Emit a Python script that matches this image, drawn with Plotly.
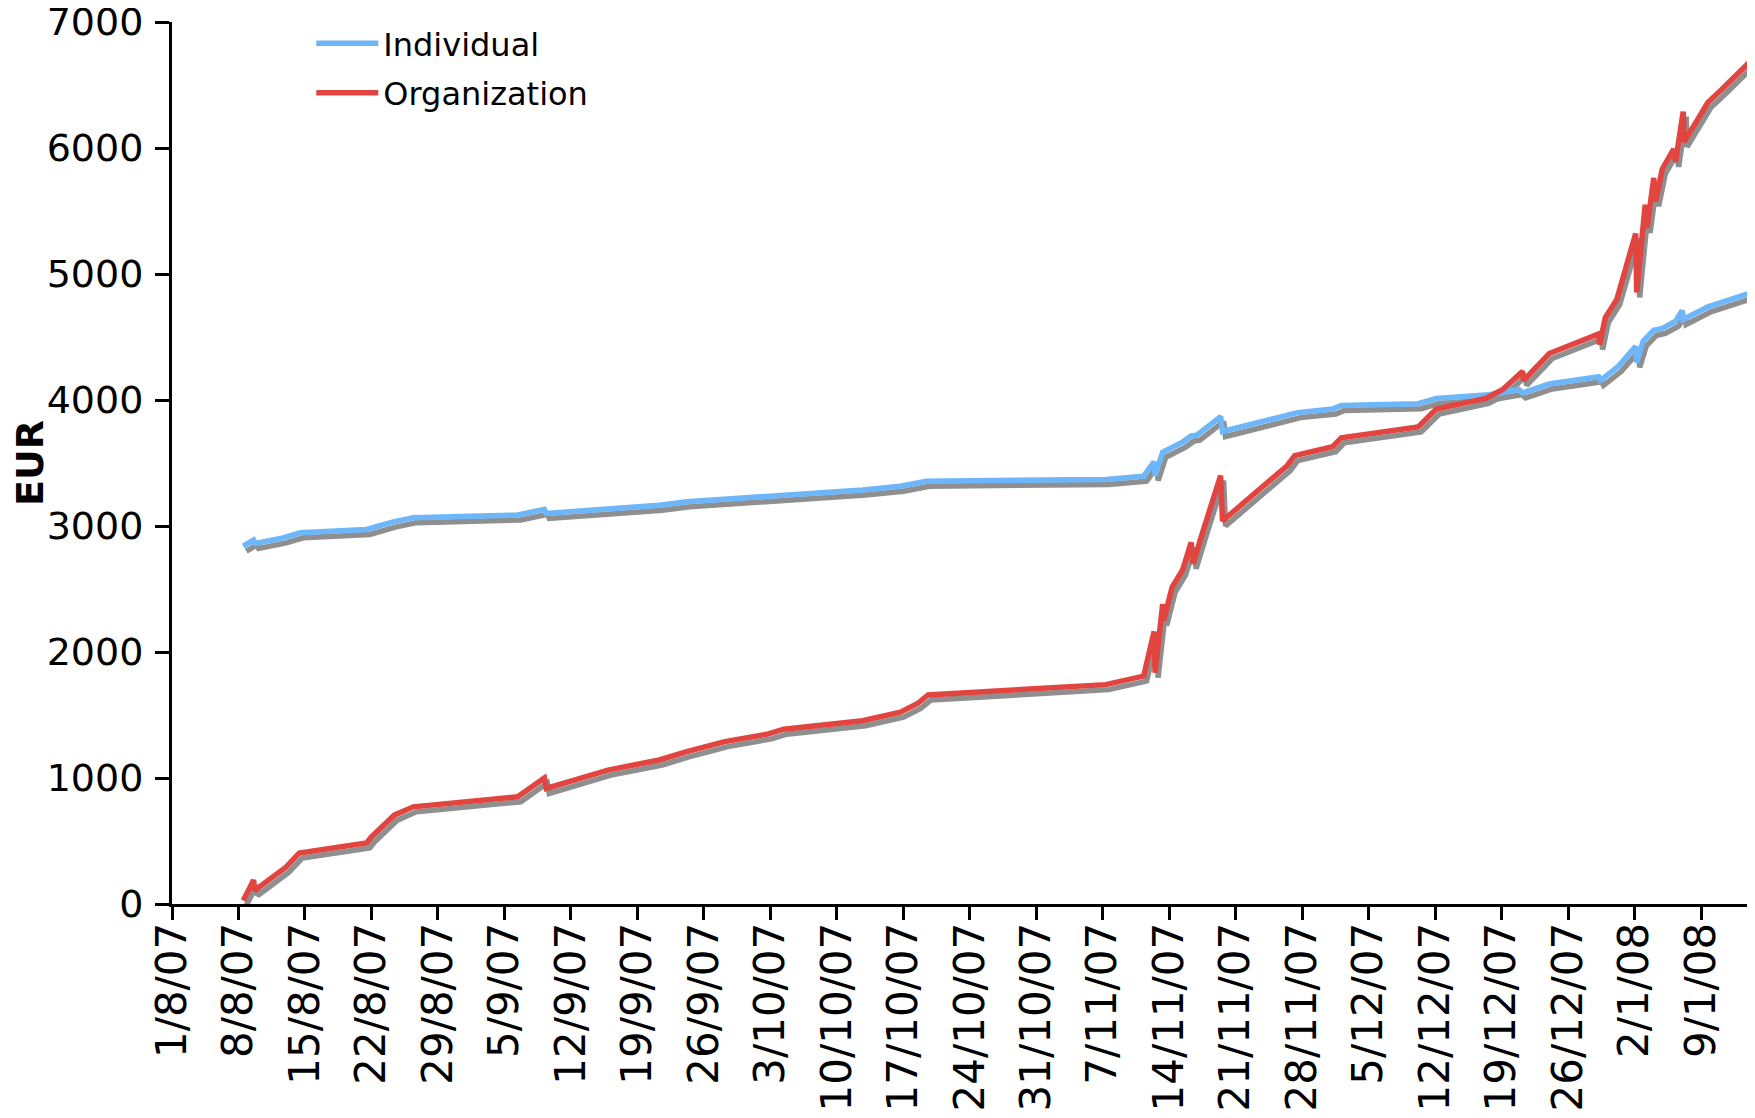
import pandas as pd
import plotly.graph_objects as go

# ---- data (days since 1 Aug 2007, EUR cumulative) ----
START = "2007-08-01"
ind_days = [7.5, 8.6, 8.8, 11.7, 13.5, 20.5, 23.2, 25.4, 36.4, 39.2, 39.4, 45.9, 51.3, 54.2,
            58.2, 62.8, 72.7, 76.7, 78.5, 79.4, 98.3, 102.3, 103.4, 103.5, 104.3, 105.3,
            106.4, 107.3, 107.9, 110.4, 110.6, 118.5, 122.2, 123.1, 131.2, 133.1, 138.7,
            141.8, 142.2, 145.0, 150.2, 150.4, 151.3, 152.3, 154.1, 154.2, 154.9, 156.0,
            156.9, 158.3, 159.0, 159.1, 161.7, 163.8, 166.6]
ind_vals = [2840, 2888, 2862, 2906, 2946, 2973, 3031, 3066, 3087, 3132, 3100, 3137, 3164, 3193,
            3212, 3235, 3285, 3315, 3335, 3355, 3370, 3395, 3510, 3400, 3585, 3625,
            3666, 3715, 3721, 3868, 3750, 3900, 3928, 3956, 3971, 4013, 4042,
            4084, 4056, 4127, 4184, 4156, 4213, 4269, 4426, 4298, 4469, 4554,
            4568, 4625, 4710, 4639, 4739, 4790, 4860]

org_days = [7.5, 8.6, 8.7, 11.5, 12.0, 13.4, 20.5, 21.0, 23.4, 25.4, 36.4, 39.2, 39.4, 45.9,
            51.3, 54.2, 58.2, 62.8, 64.4, 72.7, 76.7, 78.5, 79.6, 98.3, 102.3, 103.4, 103.5,
            104.3, 104.4, 105.3, 106.4, 107.3, 107.5, 108.4, 110.4, 110.6, 117.4, 118.2,
            122.2, 123.1, 131.2, 133.1, 138.3, 140.1, 142.2, 142.3, 145.0, 150.2, 150.3,
            150.9, 152.1, 154.1, 154.2, 155.1, 155.3, 156.0, 156.2, 156.9, 158.1, 158.3,
            159.1, 159.2, 161.7, 163.1, 166.6]
org_vals = [28, 190, 107, 254, 293, 405, 484, 532, 705, 771, 851, 1000, 917, 1063,
            1143, 1209, 1289, 1350, 1387, 1455, 1523, 1591, 1659, 1741, 1809, 2163, 1836,
            2380, 2250, 2516, 2652, 2870, 2700, 2924, 3400, 3040, 3478, 3558,
            3629, 3700, 3786, 3928, 4013, 4084, 4227, 4156, 4369, 4525, 4440,
            4654, 4796, 5322, 4853, 5550, 5365, 5763, 5578, 5834, 5991, 5891,
            6289, 6048, 6361, 6460, 6720]

series_names = ["Individual", "Organization"]
series_colors = ["#6cb6f9", "#e2453f"]
shadow_color = "#8f8f8f"
y_ticks = [0, 1000, 2000, 3000, 4000, 5000, 6000, 7000]
y_max = 7000

start = pd.Timestamp(START)
def to_dates(days):
    return [start + pd.Timedelta(days=d) for d in days]

x_end_days = 166.66
x_range = [start, start + pd.Timedelta(days=x_end_days)]
y_range = [0, y_max]

PLOT_W, PLOT_H = 1583, 882
# shadow offset, expressed in axis units (px right / px down)
px_per_day = PLOT_W / x_end_days
px_per_eur = PLOT_H / y_max
dx = pd.Timedelta(days=3 / px_per_day)
dy = 5 / px_per_eur

fig = go.Figure()
data = [(ind_days, ind_vals), (org_days, org_vals)]
# shadows on hidden base axes
for (d, v) in data:
    fig.add_trace(go.Scatter(x=to_dates(d), y=v, mode="lines", xaxis="x", yaxis="y",
                             line=dict(color=shadow_color, width=5.5), showlegend=False,
                             hoverinfo="skip"))
# main lines on visible overlay axes
for (d, v), name, col in zip(data, series_names, series_colors):
    fig.add_trace(go.Scatter(x=to_dates(d), y=v, mode="lines", name=name,
                             legendgroup=name, xaxis="x2", yaxis="y2",
                             line=dict(color=col, width=5.5)))

font_family = "DejaVu Sans, Verdana, sans-serif"
ML, MT, MB = 164, 14, 214
fig.update_layout(
    width=ML + PLOT_W, height=MT + PLOT_H + MB,
    margin=dict(l=ML, r=0, t=MT, b=MB, autoexpand=False),
    paper_bgcolor="white", plot_bgcolor="white",
    font=dict(family=font_family, color="black"),
    showlegend=True,
    legend=dict(x=0.088, y=1.007, xanchor="left", yanchor="top",
                font=dict(size=32, family=font_family), itemwidth=62,
                bgcolor="rgba(0,0,0,0)", tracegroupgap=5, traceorder="grouped"),
    xaxis=dict(visible=False, automargin=False, range=[x_range[0] - dx, x_range[1] - dx]),
    yaxis=dict(visible=False, automargin=False, range=[y_range[0] + dy, y_range[1] + dy]),
    xaxis2=dict(overlaying="x", anchor="y2", side="bottom", range=x_range, automargin=False,
                type="date", tick0=START, dtick=7 * 86400000, tickformat="%-d/%-m/%y",
                tickangle=-90, tickfont=dict(size=42), ticks="outside", ticklen=13,
                tickwidth=3, tickcolor="black", showline=True, linecolor="black",
                linewidth=3, showgrid=False, zeroline=False, ticklabelstandoff=-14,
                ticklabeloverflow="allow"),
    yaxis2=dict(overlaying="y", anchor="x2", side="left", range=y_range, automargin=False,
                tickvals=y_ticks, tickfont=dict(size=38), ticks="outside", ticklen=14,
                tickwidth=3, tickcolor="black", showline=True, linecolor="black",
                linewidth=3, showgrid=False, zeroline=False, ticklabelstandoff=4,
                ticklabeloverflow="allow",
                title=dict(text="<b>EUR</b>", font=dict(size=38), standoff=2)),
)

fig.write_html("out.html")
